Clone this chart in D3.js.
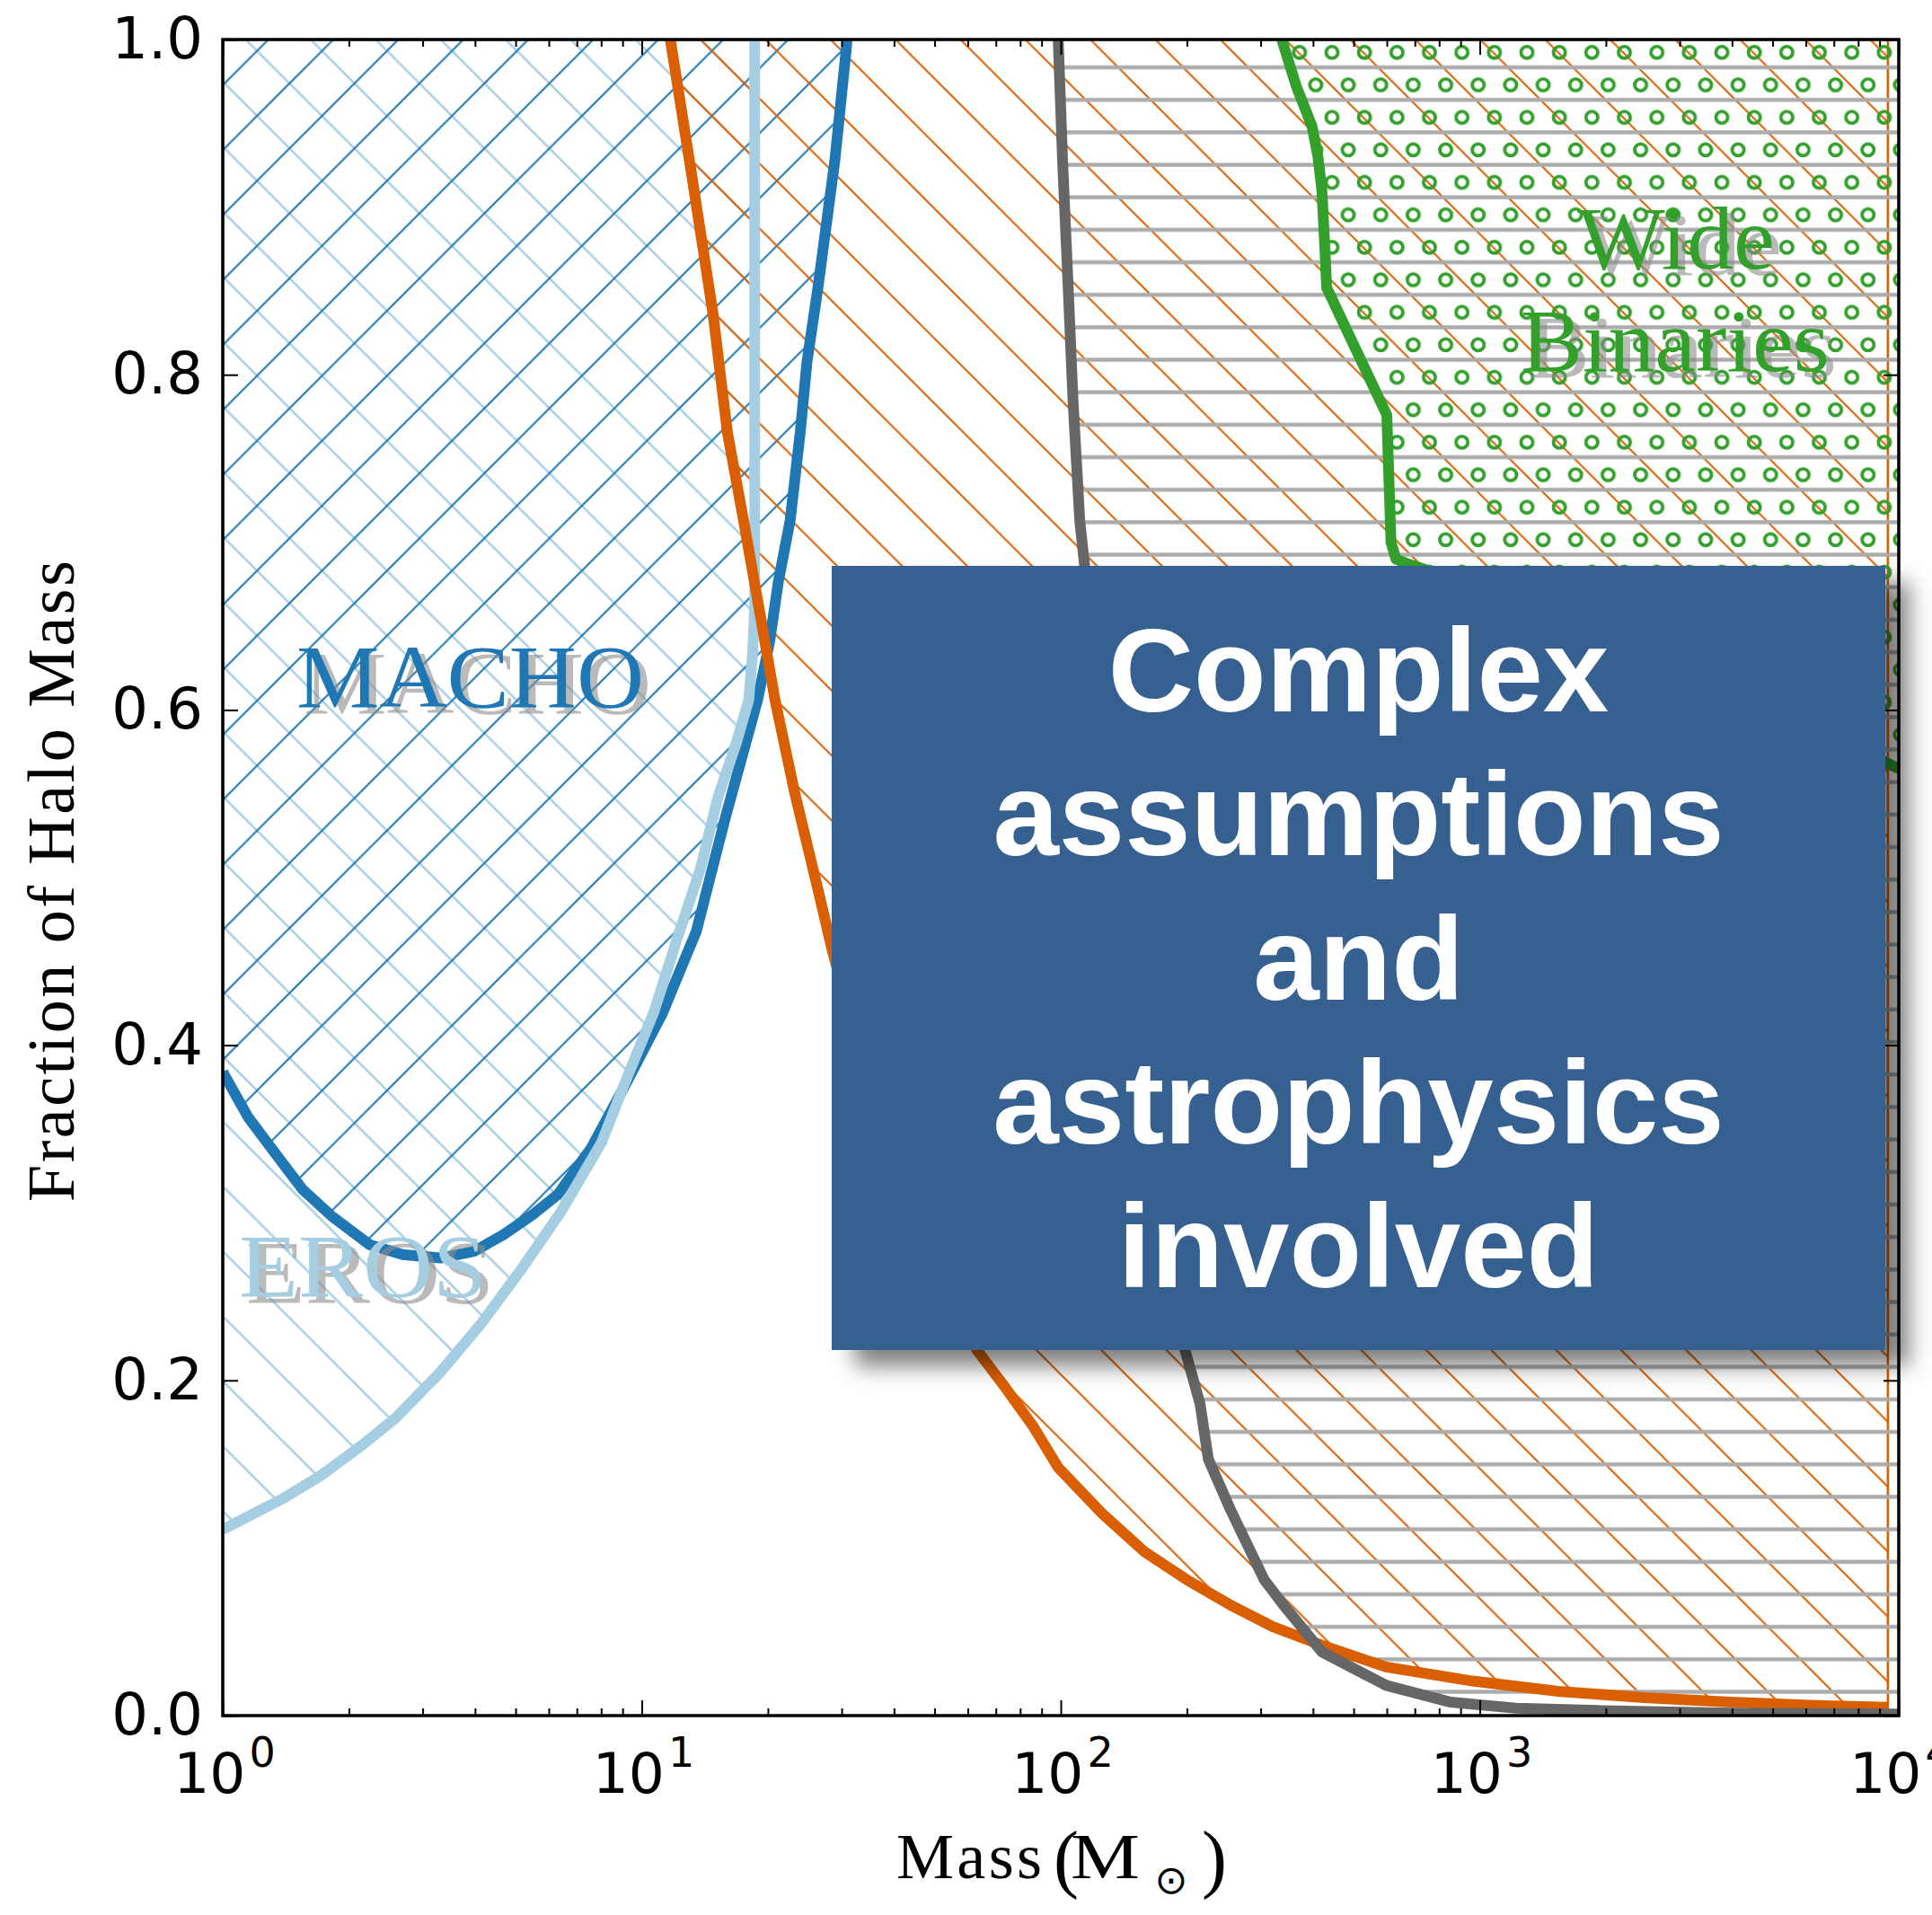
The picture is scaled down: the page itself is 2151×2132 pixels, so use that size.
<!DOCTYPE html>
<html>
<head>
<meta charset="utf-8">
<script src="https://cdn.jsdelivr.net/npm/d3@7"></script>
<style>
  html, body { margin: 0; padding: 0; background: #ffffff; }
  svg { display: block; }
</style>
</head>
<body>
<svg id="chart" width="2151" height="2132"></svg>
<script>
// ---- Constraint curves: halo fraction vs compact-object mass (solar masses) ----
const machoMass = [1.00, 1.15, 1.32, 1.55, 1.82, 2.24, 2.69, 3.31, 3.98, 4.68, 5.50, 6.31, 7.59, 9.12, 11.2, 13.5, 15.8, 18.9, 20.2, 21.2, 22.6, 23.9, 24.8, 26.3, 28.9, 30.7, 30.9];
const machoFrac = [0.384, 0.357, 0.337, 0.314, 0.298, 0.281, 0.275, 0.273, 0.277, 0.287, 0.299, 0.311, 0.339, 0.376, 0.419, 0.468, 0.535, 0.606, 0.641, 0.677, 0.713, 0.766, 0.808, 0.851, 0.928, 0.992, 1.0];

const erosMass = [1.00, 1.38, 1.71, 2.14, 2.57, 3.31, 4.14, 5.15, 6.43, 8.02, 9.20, 10.7, 12.2, 13.8, 15.2, 16.8, 18.0, 18.4, 18.6, 18.6];
const erosFrac = [0.111, 0.129, 0.143, 0.161, 0.177, 0.205, 0.234, 0.266, 0.301, 0.342, 0.380, 0.420, 0.465, 0.505, 0.548, 0.580, 0.606, 0.635, 0.660, 1.0];

const dwarfMass = [11.7, 13.2, 14.8, 16.0, 17.5, 19.1, 20.8, 23.2, 26.5, 28.4, 33.1, 39.8, 50.1, 63.1, 72.6, 85.7, 98.6, 125, 158, 200, 254, 321, 420, 598, 962, 1540, 2470, 3970, 6370, 9420];
const dwarfFrac = [1.0, 0.917, 0.836, 0.766, 0.713, 0.659, 0.606, 0.550, 0.490, 0.458, 0.395, 0.335, 0.272, 0.218, 0.198, 0.173, 0.148, 0.121, 0.098, 0.081, 0.066, 0.053, 0.042, 0.029, 0.0206, 0.0145, 0.0107, 0.008, 0.006, 0.005];

const grayMass = [98.6, 101, 104, 107, 111, 114, 126, 141, 158, 178, 198, 215, 225, 254, 306, 340, 420, 598, 853, 1220, 1950, 3980, 10000];
const grayFrac = [1.0, 0.928, 0.856, 0.784, 0.713, 0.686, 0.58, 0.47, 0.37, 0.28, 0.218, 0.186, 0.153, 0.123, 0.081, 0.066, 0.038, 0.018, 0.008, 0.0044, 0.003, 0.0015, 0.001];

const binaryMass = [337, 365, 398, 411, 420, 427, 431, 600, 614, 631, 676, 1260, 2510, 5010, 10000];
const binaryFrac = [1.0, 0.972, 0.948, 0.930, 0.910, 0.875, 0.852, 0.776, 0.700, 0.690, 0.687, 0.665, 0.635, 0.600, 0.565];

// ---- Axis ticks ----
const xMajorExponents = [0, 1, 2, 3, 4];
const xMinorTicks = [];
[1, 10, 100, 1000].forEach(d => { for (let k = 2; k <= 9; k++) xMinorTicks.push(d * k); });
const yTickValues = [0.0, 0.2, 0.4, 0.6, 0.8, 1.0];

// ---- Text ----
const xTitle = "Mass";
const yTitle = "Fraction of Halo Mass";
const calloutLines = ["Complex", "assumptions", "and", "astrophysics", "involved"];

// ---- Layout ----
const plot = { left: 248, right: 2114, top: 44, bottom: 1910 };
const x = d3.scaleLog().domain([1, 1e4]).range([plot.left, plot.right]);
const y = d3.scaleLinear().domain([0, 1]).range([plot.bottom, plot.top]);

const svg = d3.select("#chart");
svg.append("rect").attr("width", 2151).attr("height", 2132).attr("fill", "#ffffff");
const defs = svg.append("defs");

defs.append("clipPath").attr("id", "plotClip").append("rect")
  .attr("x", plot.left).attr("y", plot.top)
  .attr("width", plot.right - plot.left).attr("height", plot.bottom - plot.top);

// Hatch patterns (anchored in page space so every region shares one lattice)
const S = 72.34, G = S / 2;
function backslashPattern(id, color, w, shift) {
  const p = defs.append("pattern").attr("id", id).attr("patternUnits", "userSpaceOnUse")
    .attr("width", S).attr("height", S).attr("patternTransform", `translate(${shift},0)`);
  p.append("path")
    .attr("d", `M-3,-3L${S + 3},${S + 3}M${S - 3},-3L${S + 3},3M-3,${S - 3}L3,${S + 3}`)
    .attr("stroke", color).attr("stroke-width", w).attr("fill", "none");
}
function slashPattern(id, color, w, shift) {
  const p = defs.append("pattern").attr("id", id).attr("patternUnits", "userSpaceOnUse")
    .attr("width", S).attr("height", S).attr("patternTransform", `translate(${shift},0)`);
  p.append("path")
    .attr("d", `M-3,${S + 3}L${S + 3},-3M-3,3L3,-3M${S - 3},${S + 3}L${S + 3},${S - 3}`)
    .attr("stroke", color).attr("stroke-width", w).attr("fill", "none");
}
backslashPattern("hatchEros", "#a6cee3", 2.4, 12.5);
slashPattern("hatchMacho", "#1f78b4", 2.1, 53.5);
backslashPattern("hatchDwarf", "#d95f02", 2.0, 12.5);

const hp = defs.append("pattern").attr("id", "hatchGray").attr("patternUnits", "userSpaceOnUse")
  .attr("width", 100).attr("height", G).attr("patternTransform", `translate(0,${2.66 - G / 2})`);
hp.append("path").attr("d", `M-2,${G / 2}L102,${G / 2}`)
  .attr("stroke", "#ababab").attr("stroke-width", 4.4);

const cp = defs.append("pattern").attr("id", "hatchBinary").attr("patternUnits", "userSpaceOnUse")
  .attr("width", G).attr("height", S).attr("patternTransform", `translate(${-G / 4},${58.3 - G / 2})`);
[[G / 4, G / 2], [3 * G / 4, 3 * G / 2]].forEach(([cx, cy]) => {
  cp.append("circle").attr("cx", cx).attr("cy", cy).attr("r", 6.6)
    .attr("fill", "none").attr("stroke", "#33a02c").attr("stroke-width", 3.8);
});

const shadow = defs.append("filter").attr("id", "boxShadow")
  .attr("x", "-10%").attr("y", "-10%").attr("width", "130%").attr("height", "130%");
shadow.append("feDropShadow").attr("dx", 26).attr("dy", 18).attr("stdDeviation", 12)
  .attr("flood-color", "#000000").attr("flood-opacity", 0.5);

// ---- Regions and curves ----
const pts = (m, f) => m.map((d, i) => [d, f[i]]);
const lineGen = d3.line().x(d => x(d[0])).y(d => y(d[1]));
function regionAbove(m, f) {
  const p = pts(m, f);
  p.push([m[m.length - 1], 1.0], [m[0], 1.0]);
  return lineGen(p) + "Z";
}

const series = [
  { key: "eros",   mass: erosMass,   frac: erosFrac,   color: "#a6cee3", hatch: "hatchEros",   edge: "#a6cee3" },
  { key: "macho",  mass: machoMass,  frac: machoFrac,  color: "#1f78b4", hatch: "hatchMacho",  edge: "#1f78b4" },
  { key: "dwarf",  mass: dwarfMass,  frac: dwarfFrac,  color: "#d95f02", hatch: "hatchDwarf",  edge: "#d95f02" },
  { key: "gray",   mass: grayMass,   frac: grayFrac,   color: "#666666", hatch: "hatchGray",   edge: "#ababab" },
  { key: "binary", mass: binaryMass, frac: binaryFrac, color: "#33a02c", hatch: "hatchBinary", edge: "none" }
];

const plotG = svg.append("g").attr("clip-path", "url(#plotClip)");
plotG.selectAll("path.region").data(series).join("path")
  .attr("class", "region")
  .attr("d", s => regionAbove(s.mass, s.frac))
  .attr("fill", s => `url(#${s.hatch})`)
  .attr("stroke", s => s.edge).attr("stroke-width", 2.6);

const lineOrder = ["macho", "eros", "dwarf", "gray", "binary"];
plotG.selectAll("path.curve").data(lineOrder.map(k => series.find(s => s.key === k))).join("path")
  .attr("class", "curve")
  .attr("d", s => lineGen(pts(s.mass, s.frac)))
  .attr("fill", "none").attr("stroke", s => s.color)
  .attr("stroke-width", 12).attr("stroke-linejoin", "round");

// ---- Region labels with a soft offset shadow ----
const serif = "'Liberation Serif', 'Times New Roman', Times, serif";
function shadowLabel(text, px, py, color, len, anchor) {
  const g = svg.append("g");
  [[8, 7, "#8c8c8c", 0.6], [0, 0, color, 1]].forEach(([dx, dy, c, o]) => {
    g.append("text").attr("x", px + dx).attr("y", py + dy)
      .attr("font-family", serif).attr("font-size", 100)
      .attr("text-anchor", anchor)
      .attr("textLength", len).attr("lengthAdjust", "spacingAndGlyphs")
      .attr("fill", c).attr("fill-opacity", o).text(text);
  });
}
shadowLabel("MACHO", 330, 787, "#1f78b4", 387, "start");
shadowLabel("EROS", 266, 1443, "#a6cee3", 276, "start");
shadowLabel("Wide", 1866, 299, "#33a02c", 220, "middle");
shadowLabel("Binaries", 1865, 413, "#33a02c", 344, "middle");

// ---- Axes: inward ticks on all four sides ----
function styleAxis(g) {
  g.select(".domain").remove();
  g.selectAll(".tick line").attr("stroke", "#000").attr("stroke-width", 2);
  g.selectAll(".tick text").remove();
}
const xMajor = xMajorExponents.map(e => Math.pow(10, e));
svg.append("g").attr("transform", `translate(0,${plot.bottom})`)
  .call(d3.axisBottom(x).tickValues(xMajor).tickSize(-17).tickSizeOuter(0)).call(styleAxis);
svg.append("g").attr("transform", `translate(0,${plot.bottom})`)
  .call(d3.axisBottom(x).tickValues(xMinorTicks).tickSize(-8).tickSizeOuter(0)).call(styleAxis);
svg.append("g").attr("transform", `translate(0,${plot.top})`)
  .call(d3.axisTop(x).tickValues(xMajor).tickSize(-17).tickSizeOuter(0)).call(styleAxis);
svg.append("g").attr("transform", `translate(0,${plot.top})`)
  .call(d3.axisTop(x).tickValues(xMinorTicks).tickSize(-8).tickSizeOuter(0)).call(styleAxis);
svg.append("g").attr("transform", `translate(${plot.left},0)`)
  .call(d3.axisLeft(y).tickValues(yTickValues).tickSize(-17).tickSizeOuter(0)).call(styleAxis);
svg.append("g").attr("transform", `translate(${plot.right},0)`)
  .call(d3.axisRight(y).tickValues(yTickValues).tickSize(-17).tickSizeOuter(0)).call(styleAxis);

svg.append("rect")
  .attr("x", plot.left).attr("y", plot.top)
  .attr("width", plot.right - plot.left).attr("height", plot.bottom - plot.top)
  .attr("fill", "none").attr("stroke", "#000").attr("stroke-width", 3.5);

// Tick labels
const sans = "'DejaVu Sans', Verdana, sans-serif";
svg.append("g").selectAll("text").data(yTickValues).join("text")
  .attr("x", 226).attr("y", d => y(d) + 21)
  .attr("text-anchor", "end").attr("font-family", sans).attr("font-size", 64)
  .attr("fill", "#000").text(d => d3.format(".1f")(d));

const xl = svg.append("g").selectAll("text").data(xMajorExponents).join("text")
  .attr("x", d => x(Math.pow(10, d)) + 2).attr("y", 1996)
  .attr("text-anchor", "middle").attr("font-family", sans).attr("font-size", 63).attr("fill", "#000");
xl.append("tspan").text("10");
xl.append("tspan").attr("dx", 4).attr("dy", -29).attr("font-size", 46).text(d => d);

// Axis titles
svg.append("text").attr("x", 998).attr("y", 2091)
  .attr("font-family", serif).attr("font-size", 72)
  .attr("textLength", 162).attr("lengthAdjust", "spacing").text(xTitle);
svg.append("text").attr("x", 1173).attr("y", 2097)
  .attr("font-family", serif).attr("font-size", 84).text("(");
svg.append("text").attr("x", 1192).attr("y", 2091)
  .attr("font-family", serif).attr("font-size", 72)
  .attr("textLength", 77).attr("lengthAdjust", "spacingAndGlyphs").text("M");
svg.append("text").attr("x", 1304).attr("y", 2108)
  .attr("text-anchor", "middle").attr("font-family", sans).attr("font-size", 44).text("\u2299");
svg.append("text").attr("x", 1338).attr("y", 2097)
  .attr("font-family", serif).attr("font-size", 84).text(")");

svg.append("text")
  .attr("transform", "translate(82,981) rotate(-90)")
  .attr("text-anchor", "middle").attr("font-family", serif).attr("font-size", 74)
  .attr("textLength", 714).attr("lengthAdjust", "spacing").text(yTitle);

// ---- Callout box ----
const box = { x: 926, y: 630, w: 1173, h: 873 };
svg.append("rect").attr("x", box.x).attr("y", box.y).attr("width", box.w).attr("height", box.h)
  .attr("fill", "#36608f").attr("filter", "url(#boxShadow)");
svg.append("g").selectAll("text").data(calloutLines).join("text")
  .attr("x", box.x + box.w / 2).attr("y", (d, i) => 792 + i * 160.3)
  .attr("text-anchor", "middle")
  .attr("font-family", "'Liberation Sans', Arial, Helvetica, sans-serif")
  .attr("font-weight", "bold").attr("font-size", 132).attr("fill", "#ffffff")
  .text(d => d);
</script>
</body>
</html>
